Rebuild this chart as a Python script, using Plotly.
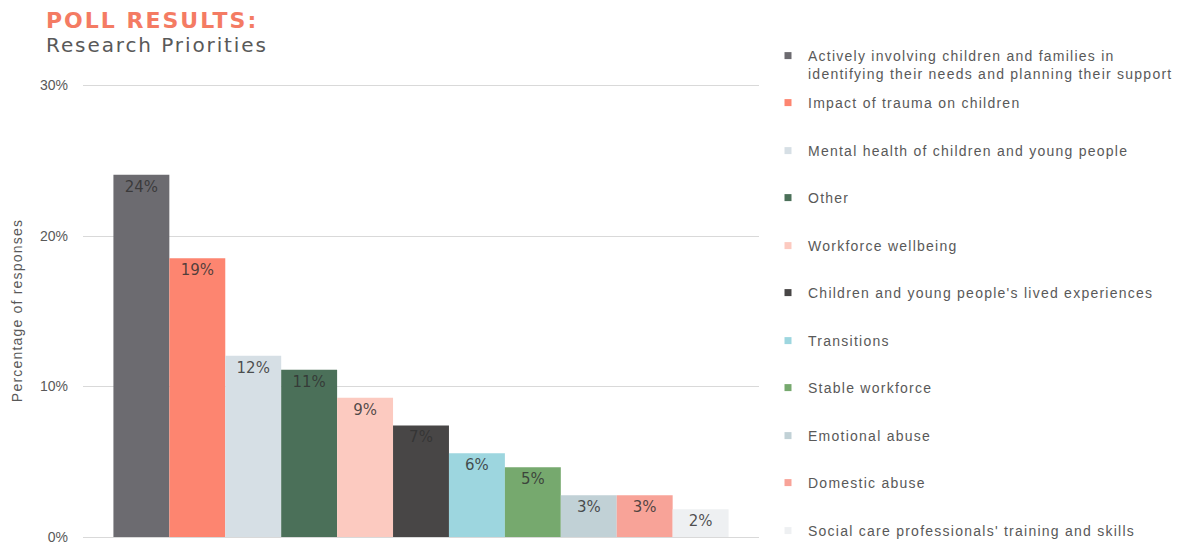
import plotly.graph_objects as go

# Poll: which research areas should be prioritised (share of responses, %)
priorities = [
    "Actively involving children and families in<br>identifying their needs and planning their support",
    "Impact of trauma on children",
    "Mental health of children and young people",
    "Other",
    "Workforce wellbeing",
    "Children and young people's lived experiences",
    "Transitions",
    "Stable workforce",
    "Emotional abuse",
    "Domestic abuse",
    "Social care professionals' training and skills",
]
shares = [24.07, 18.52, 12.04, 11.11, 9.26, 7.41, 5.56, 4.63, 2.78, 2.78, 1.85]
colors = [
    "#6C6B70", "#FD8570", "#D6DFE5", "#4B7059", "#FCCAC0", "#484646",
    "#9DD6DF", "#76A96E", "#C1D1D6", "#F8A398", "#EEF0F2",
]
y_ticks = [0, 10, 20, 30]
y_tick_labels = ["0%", "10%", "20%", "30%"]
y_range = [0, 30.1]

W, H = 1180, 557
ML, MR, MT, MB = 83, W - 759, 84, 12
PW, PH = W - ML - MR, H - MT - MB
FONT = "Liberation Sans, Arial, sans-serif"
WIDE = "DejaVu Sans, Verdana, sans-serif"
GREY = "#595959"


def px_x(x):
    return (x - ML) / PW


def px_y(y):
    return (H - MB - y) / PH


def spaced(text, px):
    """Wrap each line of text in a span with extra letter spacing."""
    return "<br>".join(
        f'<span style="letter-spacing:{px}px">{line}</span>'
        for line in text.split("<br>")
    )


fig = go.Figure()

# bars: one series per priority, grouped side by side in a single slot
for name, val, col in zip(priorities, shares, colors):
    fig.add_trace(go.Bar(
        x=[""], y=[val], name=name,
        marker=dict(color=col, line=dict(width=0)),
        texttemplate="%{y:.0f}%",
        textposition="inside", insidetextanchor="end",
        textangle=0,
        textfont=dict(family=WIDE, size=15, color="rgba(50,50,50,0.85)"),
        showlegend=False,
        hovertemplate="%{y:.1f}%<extra></extra>",
    ))

# legend keys: small squares, one legend per series so each row is placed freely
legend_tops = [40, 87, 135, 182, 230, 277, 325, 372, 420, 467, 515]
layout_legends = {}
for i, (name, col, top) in enumerate(zip(priorities, colors, legend_tops)):
    key = "legend" if i == 0 else f"legend{i + 1}"
    fig.add_trace(go.Scatter(
        x=[None], y=[None], mode="markers", name=spaced(name, 1.25),
        marker=dict(symbol="square", size=7, color=col),
        legend=key, showlegend=True, hoverinfo="skip",
    ))
    layout_legends[key] = dict(
        x=775 / W, xref="container", xanchor="left",
        y=1 - top / H, yref="container", yanchor="top",
        bgcolor="rgba(0,0,0,0)", borderwidth=0,
        font=dict(family=FONT, size=14, color=GREY),
        valign="top", itemwidth=30, indentation=-7,
    )

fig.update_layout(
    width=W, height=H,
    margin=dict(l=ML, r=MR, t=MT, b=MB),
    paper_bgcolor="white", plot_bgcolor="white",
    barmode="group", bargap=0.09, bargroupgap=0,
    font=dict(family=FONT, size=14, color=GREY),
    xaxis=dict(showticklabels=False, showgrid=False, zeroline=False,
               showline=True, linecolor="#D9D9D9", linewidth=1),
    yaxis=dict(range=y_range, tickvals=y_ticks, ticktext=y_tick_labels,
               showgrid=True, gridcolor="#D9D9D9", gridwidth=1,
               zeroline=False, ticks="", ticklabelstandoff=14,
               tickfont=dict(family=FONT, size=14, color=GREY),
               title=dict(text=spaced("Percentage of responses", 1.2),
                          font=dict(family=FONT, size=14, color=GREY),
                          standoff=14)),
    uniformtext=dict(minsize=8, mode="show"),
    **layout_legends,
)

fig.add_annotation(
    text=spaced("<b>POLL RESULTS:</b>", 2.0), xref="paper", yref="paper",
    x=px_x(44), y=px_y(5), xanchor="left", yanchor="top", showarrow=False,
    font=dict(family=WIDE, size=22, color="#F47B63"),
)
fig.add_annotation(
    text=spaced("Research Priorities", 1.9), xref="paper", yref="paper",
    x=px_x(44), y=px_y(30), xanchor="left", yanchor="top", showarrow=False,
    font=dict(family=WIDE, size=20, color=GREY),
)

fig.write_html("out.html")
